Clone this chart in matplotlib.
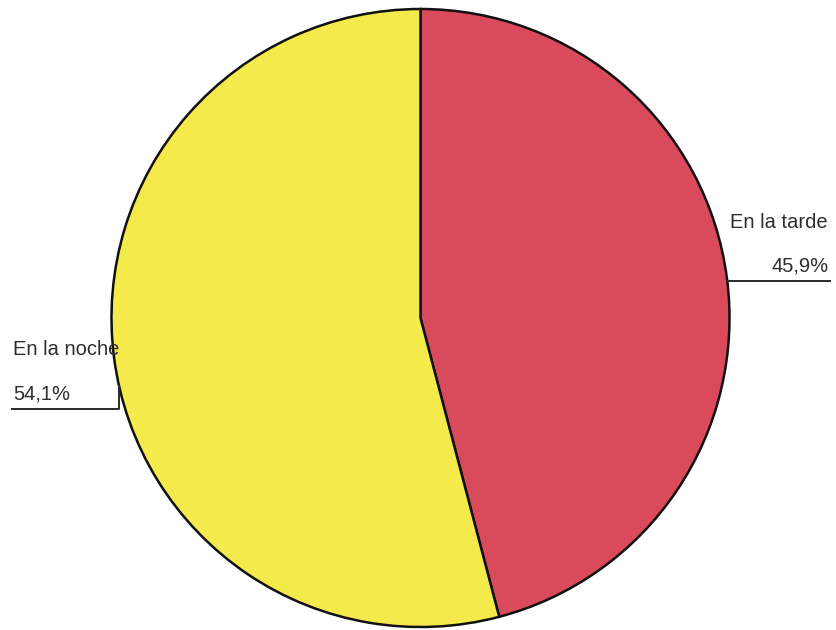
import numpy as np
import matplotlib
matplotlib.use('Agg')
import matplotlib.pyplot as plt

# Data
labels = ['En la tarde', 'En la noche']
values = [45.9, 54.1]
colors = ['#D94A5D', '#F4EA4C']

W, H = 836, 630


def py(y):
    # pixel row (from top) -> data y
    return H - y


fig = plt.figure(figsize=(W / 100, H / 100), dpi=100)
ax = fig.add_axes([0, 0, 1, 1])

cx, cy, r = 420.5, 318, 309
ax.pie(values, colors=colors, startangle=90, counterclock=False,
       center=(cx, py(cy)), radius=r, frame=True,
       wedgeprops=dict(edgecolor='#111111', linewidth=1.8))

ax.set_xlim(0, W)
ax.set_ylim(0, H)
ax.set_aspect('auto')
ax.axis('off')

pct = [f'{v:.1f}'.replace('.', ',') + '%' for v in values]
txt = dict(fontsize=14.5, color='#2e2e2e', family='Liberation Sans', va='baseline')

# "En la tarde" label, right side
line_y = 281
edge_x = cx + np.sqrt(r ** 2 - (line_y - cy) ** 2)
ax.plot([edge_x, 830], [py(line_y), py(line_y)], color='#2a2a2a', lw=1.4)
ax.text(730, py(228), labels[0], ha='left', **txt)
ax.text(829, py(272), pct[0], ha='right', **txt)

# "En la noche" label, left side
line_y2 = 409
corner_x = 119
top_y = cy + np.sqrt(r ** 2 - (cx - corner_x) ** 2)
ax.plot([12, corner_x, corner_x], [py(line_y2), py(line_y2), py(top_y)],
        color='#2a2a2a', lw=1.4)
ax.text(13, py(355), labels[1], ha='left', **txt)
ax.text(13, py(399), pct[1], ha='left', **txt)

fig.savefig('out.png', dpi=100, facecolor='white')
